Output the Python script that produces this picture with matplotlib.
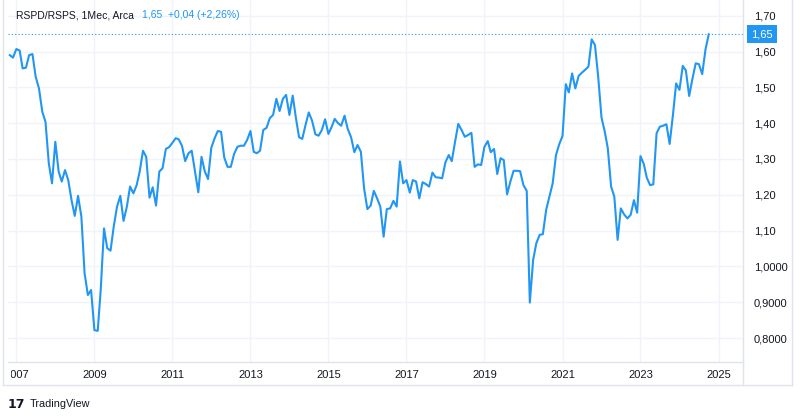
#!/usr/bin/env python3

import matplotlib
matplotlib.use("Agg")
import matplotlib.pyplot as plt
import matplotlib.transforms as mtransforms
from matplotlib.lines import Line2D
from matplotlib.patches import Rectangle
import pandas as pd
from datetime import datetime

plt.rcParams["font.family"] = ["Liberation Sans", "DejaVu Sans"]

# monthly closes of RSPD/RSPS, Nov 2006 .. Oct 2024
ratio = [
    1.590, 1.583, 1.607, 1.603, 1.553, 1.555, 1.590, 1.593, 1.530, 1.497,
    1.432, 1.404, 1.288, 1.232, 1.348, 1.265, 1.237, 1.269, 1.241, 1.185,
    1.141, 1.197, 1.139, 0.981, 0.920, 0.934, 0.822, 0.820, 0.934, 1.106,
    1.051, 1.044, 1.111, 1.167, 1.197, 1.127, 1.167, 1.223, 1.204, 1.227,
    1.265, 1.323, 1.306, 1.192, 1.221, 1.170, 1.265, 1.274, 1.328, 1.333,
    1.345, 1.358, 1.355, 1.337, 1.294, 1.316, 1.323, 1.265, 1.207, 1.306,
    1.265, 1.244, 1.332, 1.358, 1.378, 1.376, 1.304, 1.278, 1.278, 1.314,
    1.334, 1.337, 1.337, 1.353, 1.378, 1.320, 1.316, 1.323, 1.381, 1.387,
    1.414, 1.423, 1.468, 1.434, 1.468, 1.479, 1.423, 1.477, 1.418, 1.361,
    1.356, 1.395, 1.430, 1.407, 1.369, 1.365, 1.381, 1.411, 1.370, 1.390,
    1.412, 1.400, 1.393, 1.421, 1.384, 1.361, 1.319, 1.339, 1.320, 1.218,
    1.160, 1.170, 1.211, 1.190, 1.167, 1.083, 1.160, 1.162, 1.183, 1.167,
    1.293, 1.232, 1.241, 1.206, 1.241, 1.237, 1.190, 1.235, 1.230, 1.223,
    1.262, 1.249, 1.248, 1.246, 1.291, 1.311, 1.294, 1.348, 1.398, 1.381,
    1.362, 1.367, 1.373, 1.278, 1.285, 1.283, 1.334, 1.350, 1.319, 1.328,
    1.258, 1.302, 1.297, 1.201, 1.237, 1.267, 1.267, 1.266, 1.227, 1.211,
    0.899, 1.018, 1.065, 1.088, 1.090, 1.158, 1.195, 1.232, 1.311, 1.341,
    1.364, 1.509, 1.486, 1.539, 1.497, 1.532, 1.541, 1.549, 1.558, 1.634,
    1.618, 1.530, 1.416, 1.376, 1.330, 1.223, 1.195, 1.074, 1.162, 1.145,
    1.134, 1.144, 1.185, 1.150, 1.308, 1.286, 1.248, 1.227, 1.229, 1.372,
    1.390, 1.393, 1.397, 1.342, 1.423, 1.511, 1.493, 1.560, 1.547, 1.476,
    1.523, 1.567, 1.565, 1.537, 1.606, 1.648,
]
dates = pd.date_range("2006-11-01", periods=len(ratio), freq="MS")

y_ticks = [0.8, 0.9, 1.0, 1.1, 1.2, 1.3, 1.4, 1.5, 1.6, 1.7]
y_labels = ["0,8000", "0,9000", "1,0000", "1,10", "1,20", "1,30", "1,40", "1,50", "1,60", "1,70"]
x_years = [2007, 2009, 2011, 2013, 2015, 2017, 2019, 2021, 2023, 2025]

BLUE = "#2196F3"
GRID = "#f0f3fa"
BORDER = "#e0e3eb"
TEXT = "#131722"

W, H = 800, 418
fig = plt.figure(figsize=(W / 100, H / 100), dpi=100)
# plot pane in pixels: x 8..743, y 0..362 (from top)
L, R, B = 8, 743, 362
ax = fig.add_axes([L / W, (H - B) / H, (R - L) / W, B / H])

ax.plot(dates, ratio, color=BLUE, lw=1.5, solid_joinstyle="round")

last = ratio[-1]
ax.axhline(last, color=BLUE, lw=0.8, ls=(0, (1, 2)))

ax.set_xlim(datetime(2006, 10, 15), datetime(2025, 8, 18))
ax.set_ylim(0.733, 1.744)

ax.set_xticks([datetime(y, 1, 1) for y in x_years])
ax.set_xticklabels([str(y) for y in x_years])
ax.set_yticks(y_ticks)
ax.set_yticklabels(y_labels)
ax.yaxis.tick_right()
ax.tick_params(axis="both", length=0, labelsize=8, labelcolor=TEXT)
ax.tick_params(axis="x", pad=6)
ax.tick_params(axis="y", pad=8)
ax.grid(True, color=GRID, lw=1)
ax.set_axisbelow(True)

# time labels are cut at the left edge of the pane
clip = Rectangle((10.5 / W, 0), 1, 1, transform=fig.transFigure)
for lab in ax.get_xticklabels():
    lab.set_clip_path(clip)

for side in ["top", "left"]:
    ax.spines[side].set_visible(False)
for side in ["right", "bottom"]:
    ax.spines[side].set_color(BORDER)
    ax.spines[side].set_linewidth(1)

# last price tag on the scale
tr = mtransforms.blended_transform_factory(ax.transAxes, ax.transData)
ax.text(1.011, last, "1,65", transform=tr, ha="left", va="center", fontsize=8,
        color="white", clip_on=False,
        bbox=dict(boxstyle="square,pad=0.35", fc=BLUE, ec="none"))


# outer frame of the price scale and time scale
def px_line(x0, y0, x1, y1):
    fig.add_artist(Line2D([x0 / W, x1 / W], [1 - y0 / H, 1 - y1 / H],
                          color=BORDER, lw=1, transform=fig.transFigure))


px_line(3, 385, 792, 385)
px_line(792, 0, 792, 385)
px_line(743, 362, 743, 385)
px_line(3, 0, 3, 385)

# header: symbol name, then the last value right after it
title = fig.text(16 / W, 1 - 15 / H, "RSPD/RSPS, 1Мес, Arca", fontsize=7.5,
                 color=TEXT, ha="left", va="center")
fig.canvas.draw()
x_end = title.get_window_extent().x1
fig.text((x_end + 8) / W, 1 - 15 / H, "1,65  +0,04 (+2,26%)", fontsize=7.5,
         color=BLUE, ha="left", va="center")

# footer logo
fig.text(8 / W, 1 - 404 / H, "17", fontsize=9, fontweight="heavy", color=TEXT,
         ha="left", va="center", family="DejaVu Sans")
fig.text(30 / W, 1 - 404 / H, "TradingView", fontsize=7.8, color=TEXT,
         ha="left", va="center")

fig.savefig("out.png", dpi=100, facecolor="white")
